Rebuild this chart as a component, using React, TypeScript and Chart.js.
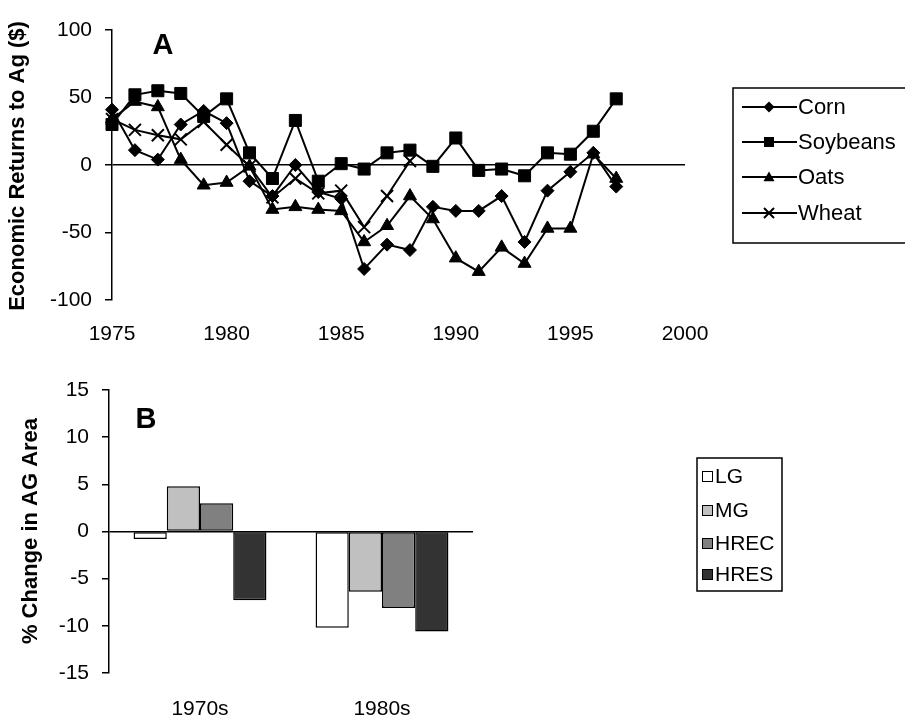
import React, { useEffect, useRef } from "react";
import { Chart, registerables } from "chart.js";

Chart.register(...registerables);

const FONT = "'Liberation Sans', Arial, Helvetica, sans-serif";

// ---- Panel A data ----
const years = [1975, 1976, 1977, 1978, 1979, 1980, 1981, 1982, 1983, 1984, 1985, 1986, 1987, 1988, 1989, 1990, 1991, 1992, 1993, 1994, 1995, 1996, 1997];
const wheatYears = [1975, 1976, 1977, 1978, 1979, 1980, 1981, 1982, 1983, 1984, 1985, 1986, 1987, 1988];
const cornValues = [41, 11, 4, 30, 40, 31, -12, -23, 0, -20, -25, -77, -59, -63, -31, -34, -34, -23, -57, -19, -5, 9, -16];
const soybeanValues = [30, 52, 55, 53, 36, 49, 9, -10, 33, -12, 1, -3, 9, 11, -1, 20, -4, -3, -8, 9, 8, 25, 49];
const oatValues = [34, 47, 43, 4, -15, -13, -1, -33, -31, -33, -34, -57, -45, -23, -40, -69, -79, -61, -73, -47, -47, 8, -10];
const wheatValues = [34, 26, 22, 19, 32, 15, -1, -24, -10, -21, -19, -46, -23, 3];
const yearTicks = [1975, 1980, 1985, 1990, 1995, 2000];
const returnTicks = [100, 50, 0, -50, -100];
const cropNames = ["Corn", "Soybeans", "Oats", "Wheat"];

// ---- Panel B data ----
const decades = ["1970s", "1980s"];
const lgValues = [-0.8, -10.2];
const mgValues = [4.8, -6.4];
const hrecValues = [3.0, -8.1];
const hresValues = [-7.3, -10.6];
const areaTicks = [15, 10, 5, 0, -5, -10, -15];
const classNames = ["LG", "MG", "HREC", "HRES"];
const classColors = ["#ffffff", "#c0c0c0", "#808080", "#333333"];

function toPoints(xs: number[], ys: number[]) {
  return xs.map((x, i) => ({ x, y: ys[i] }));
}

function drawMarker(ctx: CanvasRenderingContext2D, style: string, x: number, y: number, r: number) {
  ctx.save();
  ctx.fillStyle = "#000";
  ctx.strokeStyle = "#000";
  ctx.lineWidth = 2;
  ctx.beginPath();
  if (style === "rectRot") {
    ctx.moveTo(x, y - r);
    ctx.lineTo(x + r, y);
    ctx.lineTo(x, y + r);
    ctx.lineTo(x - r, y);
    ctx.closePath();
    ctx.fill();
  } else if (style === "rect") {
    ctx.rect(x - r, y - r, 2 * r, 2 * r);
    ctx.fill();
  } else if (style === "triangle") {
    ctx.moveTo(x, y - r);
    ctx.lineTo(x + r, y + r * 0.75);
    ctx.lineTo(x - r, y + r * 0.75);
    ctx.closePath();
    ctx.fill();
  } else {
    ctx.moveTo(x - r, y - r);
    ctx.lineTo(x + r, y + r);
    ctx.moveTo(x - r, y + r);
    ctx.lineTo(x + r, y - r);
    ctx.stroke();
  }
  ctx.restore();
}

const markerStyles = ["rectRot", "rect", "triangle", "crossRot"];
const legendMarkerSizes = [5.5, 5, 5.5, 5];

const panelAPlugin = {
  id: "panelA",
  afterDraw(chart: any) {
    const ctx: CanvasRenderingContext2D = chart.ctx;
    ctx.save();
    ctx.fillStyle = "#000";
    ctx.font = `bold 22px ${FONT}`;
    ctx.textAlign = "center";
    ctx.textBaseline = "middle";
    ctx.translate(18, 166);
    ctx.rotate(-Math.PI / 2);
    ctx.fillText("Economic Returns to Ag ($)", 0, 0);
    ctx.restore();

    ctx.save();
    ctx.fillStyle = "#000";
    ctx.font = `bold 29px ${FONT}`;
    ctx.textAlign = "center";
    ctx.textBaseline = "middle";
    ctx.fillText("A", 163, 46);

    // legend box
    ctx.strokeStyle = "#000";
    ctx.lineWidth = 1.5;
    ctx.strokeRect(733, 88, 200, 155);
    const rows = [107, 142, 177, 213];
    ctx.font = `22px ${FONT}`;
    ctx.textAlign = "left";
    ctx.textBaseline = "middle";
    cropNames.forEach((name, i) => {
      const y = rows[i];
      ctx.beginPath();
      ctx.lineWidth = 2;
      ctx.moveTo(742, y);
      ctx.lineTo(797, y);
      ctx.stroke();
      drawMarker(ctx, markerStyles[i], 769, y, legendMarkerSizes[i]);
      ctx.fillStyle = "#000";
      ctx.fillText(name, 798, y + 1);
    });
    ctx.restore();
  },
};

const panelBPlugin = {
  id: "panelB",
  afterDraw(chart: any) {
    const ctx: CanvasRenderingContext2D = chart.ctx;
    ctx.save();
    ctx.fillStyle = "#000";
    ctx.font = `bold 22px ${FONT}`;
    ctx.textAlign = "center";
    ctx.textBaseline = "middle";
    ctx.translate(31, 171);
    ctx.rotate(-Math.PI / 2);
    ctx.fillText("% Change in AG Area", 0, 0);
    ctx.restore();

    ctx.save();
    ctx.fillStyle = "#000";
    ctx.font = `bold 29px ${FONT}`;
    ctx.textAlign = "center";
    ctx.textBaseline = "middle";
    ctx.fillText("B", 146, 60);

    ctx.strokeStyle = "#000";
    ctx.lineWidth = 1.5;
    ctx.strokeRect(697, 98, 85, 133);
    const rows = [116, 150, 183, 214];
    ctx.font = `21px ${FONT}`;
    ctx.textAlign = "left";
    ctx.textBaseline = "middle";
    classNames.forEach((name, i) => {
      const y = rows[i];
      ctx.fillStyle = classColors[i];
      ctx.fillRect(702, y - 5, 10, 10);
      ctx.lineWidth = 1;
      ctx.strokeStyle = "#000";
      ctx.strokeRect(702.5, y - 4.5, 10, 10);
      ctx.fillStyle = "#000";
      ctx.fillText(name, 715, y + 1);
    });
    ctx.restore();
  },
};

export default function App() {
  const topRef = useRef<HTMLCanvasElement | null>(null);
  const bottomRef = useRef<HTMLCanvasElement | null>(null);

  useEffect(() => {
    Chart.defaults.font.family = FONT;
    Chart.defaults.color = "#000";

    const seriesValues = [toPoints(years, cornValues), toPoints(years, soybeanValues), toPoints(years, oatValues), toPoints(wheatYears, wheatValues)];
    const radii = [6.5, 8.5, 7.5, 8.5];

    const top = new Chart(topRef.current as HTMLCanvasElement, {
      type: "line",
      data: {
        datasets: cropNames.map((name, i) => ({
          label: name,
          data: seriesValues[i],
          borderColor: "#000",
          backgroundColor: "#000",
          borderWidth: 2,
          tension: 0,
          pointStyle: markerStyles[i] as any,
          pointRadius: radii[i],
          pointBorderWidth: i === 3 ? 2 : 1,
          pointBorderColor: "#000",
          pointBackgroundColor: "#000",
          clip: false as any,
        })),
      },
      options: {
        animation: false,
        responsive: false,
        maintainAspectRatio: false,
        layout: { padding: { left: 0, right: 220, top: 30, bottom: 0 } },
        plugins: { legend: { display: false }, tooltip: { enabled: false } },
        scales: {
          x: {
            type: "linear",
            min: 1975,
            max: 2000,
            afterFit: (s: any) => { s.height = 60; },
            afterBuildTicks: (s: any) => { s.ticks = yearTicks.map((v) => ({ value: v })); },
            ticks: { font: { size: 21 }, color: "#000", padding: 22, callback: (v: any) => String(v) },
            grid: { display: false, drawTicks: false },
            border: { display: false },
          },
          y: {
            min: -100,
            max: 100,
            afterFit: (s: any) => { s.width = 112; },
            afterBuildTicks: (s: any) => { s.ticks = returnTicks.map((v) => ({ value: v })); },
            ticks: { font: { size: 21 }, color: "#000", padding: 13, callback: (v: any) => String(v) },
            grid: {
              color: (c: any) => (c.tick && c.tick.value === 0 ? "#000" : "rgba(0,0,0,0)"),
              lineWidth: 1.5,
              tickLength: 7,
              tickColor: "#000",
              tickWidth: 1.5,
              drawTicks: true,
            } as any,
            border: { display: true, color: "#000", width: 1.5 },
          },
        },
      },
      plugins: [panelAPlugin],
    } as any);

    const classValues = [lgValues, mgValues, hrecValues, hresValues];
    const bottom = new Chart(bottomRef.current as HTMLCanvasElement, {
      type: "bar",
      data: {
        labels: decades,
        datasets: classNames.map((name, i) => ({
          label: name,
          data: classValues[i],
          backgroundColor: classColors[i],
          borderColor: "#000",
          borderWidth: 1.5,
          borderSkipped: false,
          categoryPercentage: 0.73,
          barPercentage: 1,
        })),
      },
      options: {
        animation: false,
        responsive: false,
        maintainAspectRatio: false,
        layout: { padding: { left: 0, right: 432, top: 30, bottom: 0 } },
        plugins: { legend: { display: false }, tooltip: { enabled: false } },
        scales: {
          x: {
            afterFit: (s: any) => { s.height = 42; },
            ticks: { font: { size: 21 }, color: "#000", padding: 24 },
            grid: { display: false, drawTicks: false },
            border: { display: false },
          },
          y: {
            min: -15,
            max: 15,
            afterFit: (s: any) => { s.width = 109; },
            afterBuildTicks: (s: any) => { s.ticks = areaTicks.map((v) => ({ value: v })); },
            ticks: { font: { size: 21 }, color: "#000", padding: 13, callback: (v: any) => String(v) },
            grid: {
              color: (c: any) => (c.tick && c.tick.value === 0 ? "#000" : "rgba(0,0,0,0)"),
              lineWidth: 1.5,
              tickLength: 7,
              tickColor: "#000",
              tickWidth: 1.5,
              drawTicks: true,
            } as any,
            border: { display: true, color: "#000", width: 1.5 },
          },
        },
      },
      plugins: [panelBPlugin],
    } as any);

    return () => {
      top.destroy();
      bottom.destroy();
    };
  }, []);

  return (
    <div style={{ position: "absolute", left: 0, top: 0, width: 905, height: 715, background: "#fff" }}>
      <canvas ref={topRef} width={905} height={360} style={{ position: "absolute", left: 0, top: 0, width: 905, height: 360 }} />
      <canvas ref={bottomRef} width={905} height={355} style={{ position: "absolute", left: 0, top: 360, width: 905, height: 355 }} />
    </div>
  );
}
